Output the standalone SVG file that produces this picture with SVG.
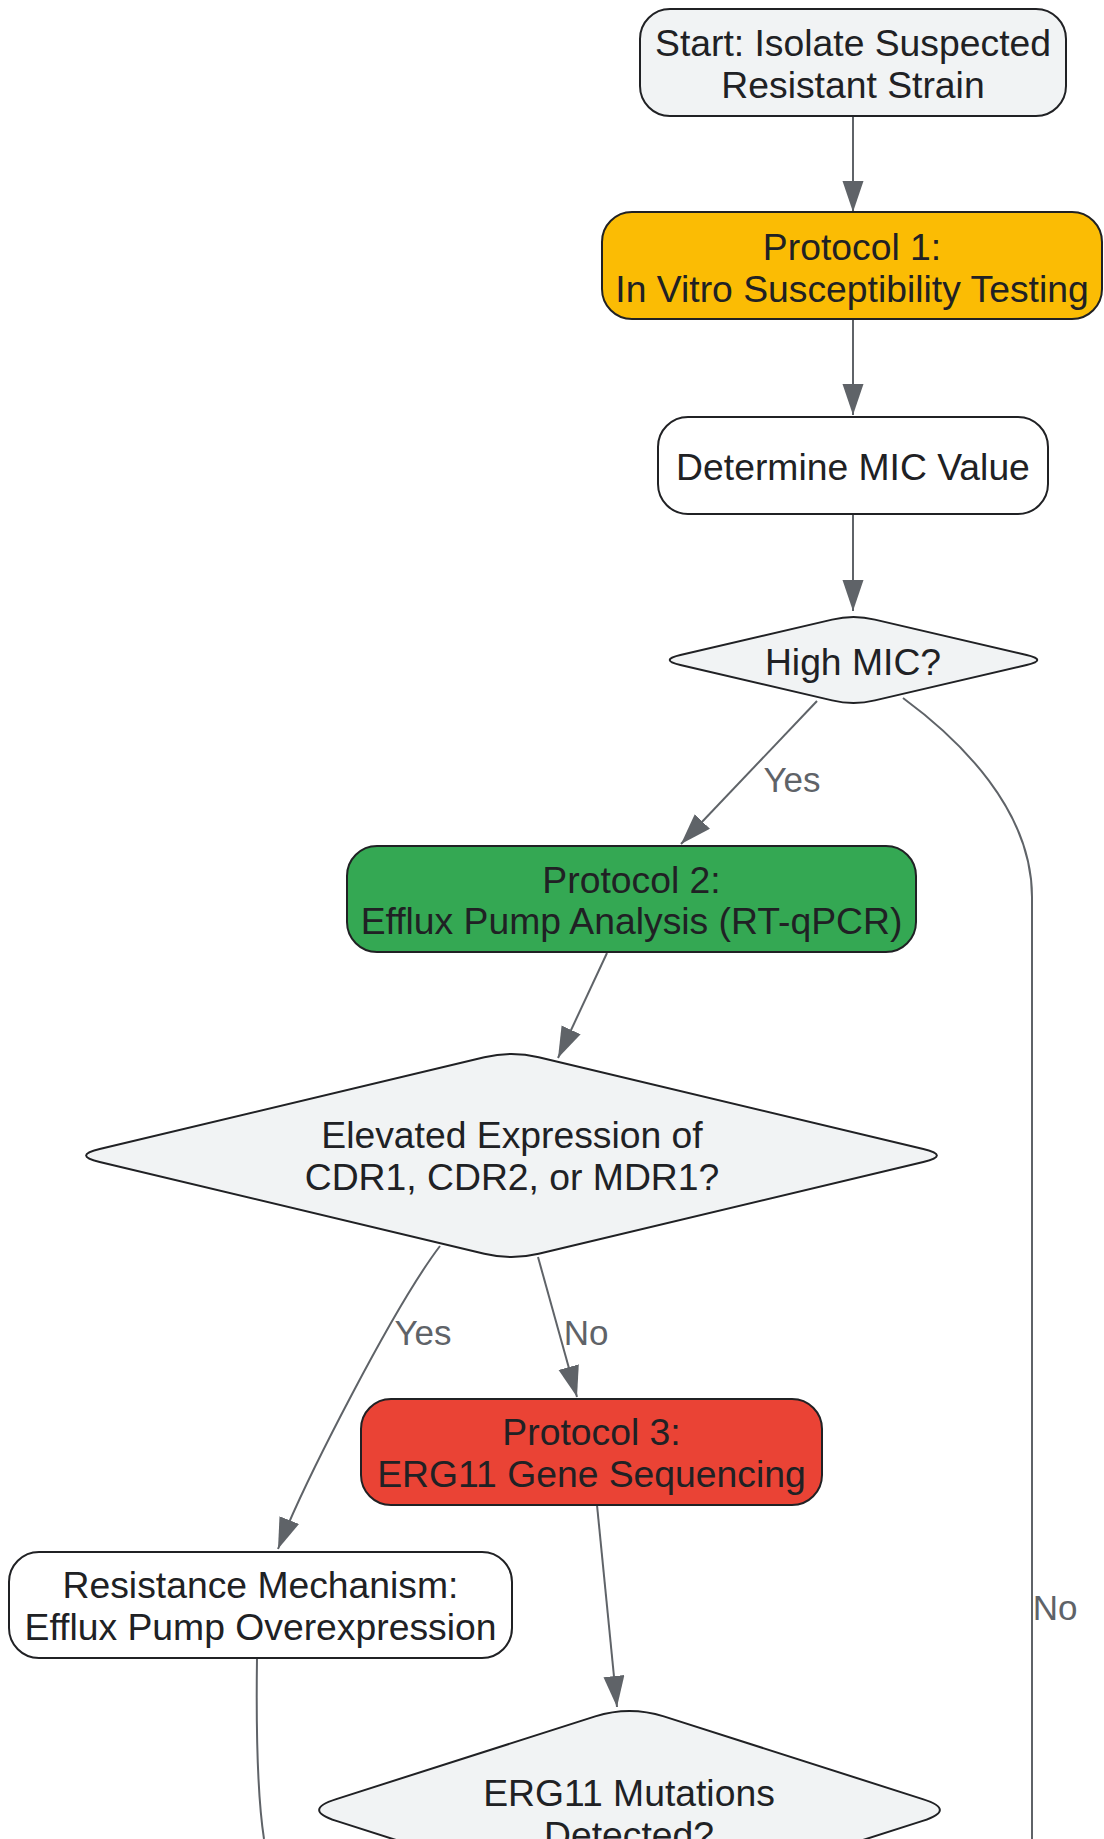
<svg xmlns="http://www.w3.org/2000/svg" width="1104" height="1839" viewBox="0 0 1104 1839">
<defs>
<style>
.node rect, .node path { stroke: #202124; stroke-width: 2; }
.t { font-family: "Liberation Sans", Arial, sans-serif; font-size: 37.3px; fill: #202124; text-anchor: middle; }
.lbl { font-family: "Liberation Sans", Arial, sans-serif; font-size: 35px; fill: #5f6368; text-anchor: middle; }
.edge { fill: none; stroke: #5f6368; stroke-width: 2; marker-end: url(#arrow); }
.plain { fill: none; stroke: #5f6368; stroke-width: 2; }
</style>
<marker id="arrow" markerUnits="userSpaceOnUse" markerWidth="32" markerHeight="22" refX="31" refY="10.5" orient="auto">
<path d="M0,0 L31,10.5 L0,21 Z" fill="#5f6368"/>
</marker>
</defs>
<rect width="1104" height="1839" fill="#ffffff"/>

<g id="connectors">
<path class="edge" d="M853,116 L853,212"/>
<path class="edge" d="M853,319 L853,415"/>
<path class="edge" d="M853,514 L853,611"/>
<path class="edge" d="M817,701 L681,844"/>
<path class="plain" d="M903,698 C960,740 1032,810 1032,897 L1032,1839"/>
<path class="edge" d="M607,953 L558,1058"/>
<path class="edge" d="M440,1246 C395,1305 305,1480 278,1549"/>
<path class="edge" d="M538,1257 L577,1397"/>
<path class="plain" d="M257,1658 C256,1730 258,1800 264,1839"/>
<path class="edge" d="M597,1505 L617,1707"/>
<text class="lbl" x="792" y="792">Yes</text>
<text class="lbl" x="423" y="1345">Yes</text>
<text class="lbl" x="586" y="1345">No</text>
<text class="lbl" x="1055" y="1620">No</text>
</g>

<g id="start" class="node">
<rect x="640" y="9" width="426" height="107" rx="30" fill="#f1f3f4"/>
<text class="t" x="853" y="56">Start: Isolate Suspected</text>
<text class="t" x="853" y="98">Resistant Strain</text>
</g>

<g id="protocol1" class="node">
<rect x="602" y="212" width="500" height="107" rx="30" fill="#fbbc04"/>
<text class="t" x="852" y="260">Protocol 1:</text>
<text class="t" x="852" y="302">In Vitro Susceptibility Testing</text>
</g>

<g id="mic" class="node">
<rect x="658" y="417" width="390" height="97" rx="30" fill="#ffffff"/>
<text class="t" x="853" y="480">Determine MIC Value</text>
</g>

<g id="highmic" class="node">
<path d="M874.9,619.6 L1026.6,655 Q1048,660 1026.6,665 L874.9,700.4 Q853.5,705.5 832.1,700.4 L680.4,665 Q659,660 680.4,655 L832.1,619.6 Q853.5,614.5 874.9,619.6 Z" fill="#f1f3f4"/>
<text class="t" x="853" y="675">High MIC?</text>
</g>

<g id="protocol2" class="node">
<rect x="347" y="846" width="569" height="106" rx="30" fill="#34a853"/>
<text class="t" x="631.5" y="893">Protocol 2:</text>
<text class="t" x="631.5" y="934">Efflux Pump Analysis (RT-qPCR)</text>
</g>

<g id="efflux" class="node">
<path d="M538.7,1057.3 L923.3,1149 Q950.5,1155.5 923.3,1162 L538.7,1253.7 Q511.5,1260.2 484.3,1253.7 L99.7,1162 Q72.5,1155.5 99.7,1149 L484.3,1057.3 Q511.5,1050.8 538.7,1057.3 Z" fill="#f1f3f4"/>
<text class="t" x="512" y="1148">Elevated Expression of</text>
<text class="t" x="512" y="1190">CDR1, CDR2, or MDR1?</text>
</g>

<g id="protocol3" class="node">
<rect x="361" y="1399" width="461" height="106" rx="30" fill="#ea4335"/>
<text class="t" x="591.5" y="1445">Protocol 3:</text>
<text class="t" x="591.5" y="1487">ERG11 Gene Sequencing</text>
</g>

<g id="mechanism" class="node">
<rect x="9" y="1552" width="503" height="106" rx="30" fill="#ffffff"/>
<text class="t" x="260.5" y="1598">Resistance Mechanism:</text>
<text class="t" x="260.5" y="1640">Efflux Pump Overexpression</text>
</g>

<g id="erg11" class="node">
<path d="M663.8,1716.4 L922.7,1799.1 Q957,1810 922.7,1820.9 L663.8,1903.6 Q629.5,1914.5 595.2,1903.6 L336.3,1820.9 Q302,1810 336.3,1799.1 L595.2,1716.4 Q629.5,1705.5 663.8,1716.4 Z" fill="#f1f3f4"/>
<text class="t" x="629" y="1806">ERG11 Mutations</text>
<text class="t" x="629" y="1848">Detected?</text>
</g>
</svg>
